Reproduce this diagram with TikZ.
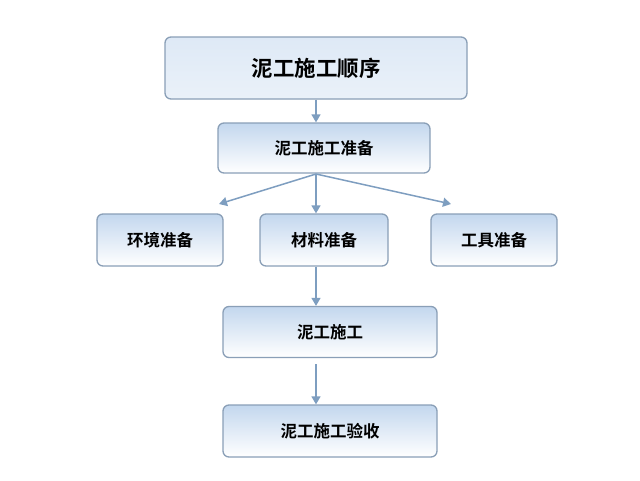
\documentclass[tikz,border=0pt]{standalone}
\usepackage{fontspec}
\newfontfamily\cjk{Noto Sans CJK SC}[BoldFont={Noto Sans CJK SC Bold}]
\usetikzlibrary{arrows.meta}
\definecolor{edge}{HTML}{8A9FB7}
\definecolor{arr}{HTML}{7E9EC0}
\definecolor{topblue}{HTML}{C3D7EE}
\tikzset{
  box/.style={draw=edge, line width=1.3pt, rounded corners=6pt, top color=topblue, bottom color=white, inner sep=0pt, font=\cjk\bfseries\fontsize{16.5}{18}\selectfont, text=black},
  titlebox/.style={box, top color=topblue!55, middle color=white, bottom color=topblue!35, font=\cjk\bfseries\fontsize{21.5}{24}\selectfont},
  conn/.style={draw=arr, line width=1.5pt, -{Triangle[length=8pt,width=9pt]}}
}
\begin{document}
\begin{tikzpicture}[x=1pt,y=-1pt]
\useasboundingbox (0,0) rectangle (640,480);
\fill[white] (0,0) rectangle (640,480);
\node[titlebox, minimum width=302pt, minimum height=62pt] (t) at (316,68) {泥工施工顺序};
\node[box, minimum width=212pt, minimum height=50pt] (p) at (324,148) {泥工施工准备};
\node[box, minimum width=126pt, minimum height=52pt] (e) at (160,240) {环境准备};
\node[box, minimum width=128pt, minimum height=52pt] (m) at (324,240) {材料准备};
\node[box, minimum width=126pt, minimum height=52pt] (g) at (494,240) {工具准备};
\node[box, minimum width=214pt, minimum height=51pt] (c) at (330,332) {泥工施工};
\node[box, minimum width=214pt, minimum height=52pt] (a) at (330,431) {泥工施工验收};
\coordinate (ps) at (316,174);
\coordinate (el) at (219,204);
\coordinate (gr) at (451,204);
\coordinate (cs) at (316,364);
\draw[conn] (t.south -| ps) -- (p.north -| ps);
\draw[conn] (ps) -- (el);
\draw[conn] (ps) -- (gr);
\draw[conn] (ps) -- (m.north -| ps);
\draw[conn] (m.south -| ps) -- (c.north -| ps);
\draw[conn] (cs) -- (a.north -| cs);
\end{tikzpicture}
\end{document}
